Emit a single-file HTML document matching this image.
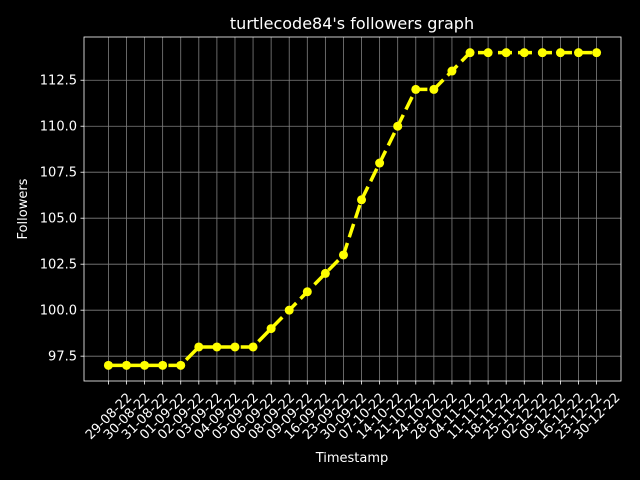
<!DOCTYPE html>
<html><head><meta charset="utf-8"><style>
html,body{margin:0;padding:0;background:#000;}
svg{display:block;font-family:"DejaVu Sans","Liberation Sans",sans-serif;}
</style></head><body>
<svg id="chart" width="640" height="480" viewBox="0 0 640 480" xmlns="http://www.w3.org/2000/svg">
<rect width="640" height="480" fill="#000"/>
<g id="grid"></g>
<g id="series"></g>
<g id="axes"></g>
<text x="352" y="29" fill="#fff" font-size="16" text-anchor="middle">turtlecode84's followers graph</text>
<text x="352" y="462" fill="#fff" font-size="13" text-anchor="middle">Timestamp</text>
<text transform="translate(27,209) rotate(-90)" fill="#fff" font-size="13" text-anchor="middle">Followers</text>
</svg>
<script>
const categories=["29-08-22","30-08-22","31-08-22","01-09-22","02-09-22","03-09-22","04-09-22","05-09-22","06-09-22","08-09-22","09-09-22","16-09-22","23-09-22","30-09-22","07-10-22","14-10-22","21-10-22","24-10-22","28-10-22","04-11-22","11-11-22","18-11-22","25-11-22","02-12-22","09-12-22","16-12-22","23-12-22","30-12-22"];
const followers=[97,97,97,97,97,98,98,98,98,99,100,101,102,103,106,108,110,112,112,113,114,114,114,114,114,114,114,114];
const yTicks=[97.5,100.0,102.5,105.0,107.5,110.0,112.5];

const L=84,R=621,T=37,B=381;
const NS="http://www.w3.org/2000/svg";
const n=categories.length;
const xMin=-0.05*(n-1),xMax=(n-1)*1.05;
const yLo=Math.min(...followers),yHi=Math.max(...followers);
const yMin=yLo-0.05*(yHi-yLo),yMax=yHi+0.05*(yHi-yLo);
const xs=i=>L+(i-xMin)/(xMax-xMin)*(R-L);
const ys=v=>B-(v-yMin)/(yMax-yMin)*(B-T);
function mk(tag,attrs,parent){const e=document.createElementNS(NS,tag);for(const k in attrs)e.setAttribute(k,attrs[k]);parent.appendChild(e);return e;}
const grid=document.getElementById('grid'),axes=document.getElementById('axes'),ser=document.getElementById('series');

categories.forEach((c,i)=>{
  const x=xs(i);
  const g=mk('line',{x1:x,x2:x,y1:T,y2:B,stroke:'#808080','stroke-width':0.8},grid);
  
  
  const t=mk('line',{x1:x,x2:x,y1:B,y2:B+3.5,stroke:'#fff','stroke-width':0.8},axes);
  
  
  const lb=mk('text',{x:0,y:4.5,fill:'#fff','font-size':'13','text-anchor':'middle',transform:`translate(${x},${B+35}) rotate(-45)`},axes);
  lb.textContent=c;
  
  
});
yTicks.forEach(v=>{
  const y=ys(v);
  const g=mk('line',{x1:L,x2:R,y1:y,y2:y,stroke:'#808080','stroke-width':0.8},grid);
  
  
  const t=mk('line',{x1:L-3.5,x2:L,y1:y,y2:y,stroke:'#fff','stroke-width':0.8},axes);
  
  
  const lb=mk('text',{x:L-7,y:y+4.5,fill:'#fff','font-size':'13','text-anchor':'end'},axes);
  lb.textContent=v.toFixed(1);
  
  
});
const frame=mk('rect',{x:L,y:T,width:R-L,height:B-T,fill:'none',stroke:'#fff','stroke-width':0.8},axes);



const pts=followers.map((v,i)=>xs(i)+','+ys(v)).join(' ');
const line=mk('polyline',{points:pts,fill:'none',stroke:'#ffff00','stroke-width':3.5,'stroke-dasharray':'14,6','stroke-linejoin':'round'},ser);


followers.forEach((v,i)=>{
  const c=mk('circle',{cx:xs(i),cy:ys(v),r:4.5,fill:'#ffff00'},ser);
  
  
});
</script>
</body></html>
